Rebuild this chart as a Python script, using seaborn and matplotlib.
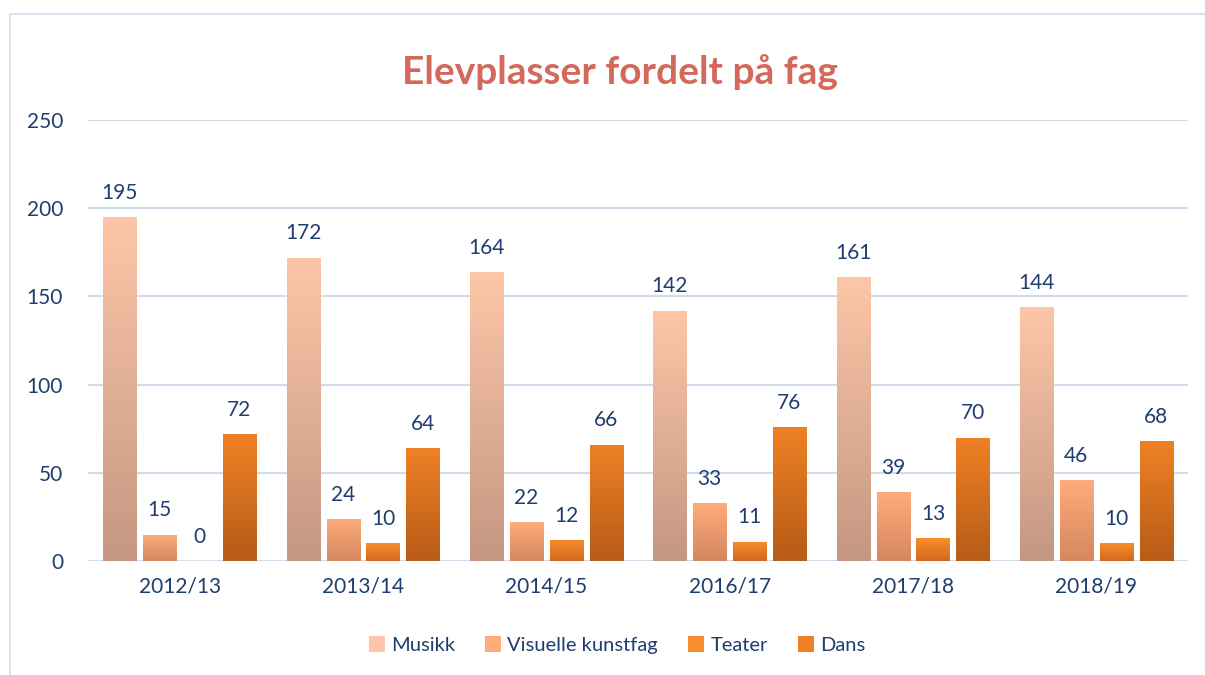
import numpy as np
import pandas as pd
import matplotlib
matplotlib.use("Agg")
import matplotlib.pyplot as plt
from matplotlib.colors import LinearSegmentedColormap
from matplotlib.patches import Rectangle, Patch
import seaborn as sns

years = ["2012/13", "2013/14", "2014/15", "2016/17", "2017/18", "2018/19"]
subjects = ["Musikk", "Visuelle kunstfag", "Teater", "Dans"]
musikk = [195, 172, 164, 142, 161, 144]
visuelle = [15, 24, 22, 33, 39, 46]
teater = [0, 10, 12, 11, 13, 10]
dans = [72, 64, 66, 76, 70, 68]

# gradient (top, bottom) per subject
grad = {
    "Musikk": ("#FDC6A8", "#C49782"),
    "Visuelle kunstfag": ("#FFAC7C", "#D5875E"),
    "Teater": ("#F98E2C", "#D0691C"),
    "Dans": ("#EF8125", "#B75B17"),
}
text_col = "#1F3D6E"
grid_col = "#D0DCEC"

df = pd.DataFrame({
    "year": np.repeat(years, 4),
    "subject": subjects * len(years),
    "value": np.array([musikk, visuelle, teater, dans]).T.ravel(),
})

sns.set_theme(style="white")
plt.rcParams["font.family"] = ["Lato", "DejaVu Sans"]

fig = plt.figure(figsize=(12.05, 6.75), dpi=100)
fig.patches.append(Rectangle((10 / 1205, -0.1), 1.2, 1 - 14 / 675 + 0.1,
                             transform=fig.transFigure, fill=False,
                             edgecolor="#D9E3F2", linewidth=1.5))
ax = fig.add_axes([88 / 1205, 1 - 561 / 675, 1100 / 1205, 441 / 675])

palette = {k: v[0] for k, v in grad.items()}
sns.barplot(data=df, x="year", y="value", hue="subject", order=years,
            hue_order=subjects, palette=palette, width=0.87, gap=0.17,
            ax=ax, legend=False)

ax.set_ylim(0, 250)
ax.set_yticks(range(0, 251, 50))
ax.yaxis.grid(True, color=grid_col, linewidth=1.5)
ax.set_axisbelow(True)
for s in ax.spines.values():
    s.set_visible(False)
ax.set_xlabel("")
ax.set_ylabel("")
ax.tick_params(axis="both", length=0, labelsize=15, colors=text_col)
ax.tick_params(axis="y", pad=18)
ax.tick_params(axis="x", pad=11)

# gradient fill for bars
xlim = ax.get_xlim()
for i, cont in enumerate(ax.containers):
    top, bot = grad[subjects[i]]
    cmap = LinearSegmentedColormap.from_list("g", [bot, top])
    for bar, val in zip(cont, cont.datavalues):
        x0 = bar.get_x()
        w = bar.get_width()
        h = bar.get_height()
        if h > 0:
            img = ax.imshow(np.linspace(0, 1, 256).reshape(-1, 1),
                            extent=[x0, x0 + w, 0, h], origin="lower",
                            cmap=cmap, aspect="auto", zorder=2)
            img.set_clip_path(bar)
            bar.set_facecolor("none")
            bar.set_edgecolor("none")
        ax.text(x0 + w / 2, h + 8, f"{int(val)}", ha="center", va="bottom",
                fontsize=15, color=text_col)
ax.set_xlim(xlim)
ax.set_ylim(0, 250)

fig.text(620 / 1205, 1 - 72 / 675, "Elevplasser fordelt på fag", ha="center",
         va="center", fontsize=28, fontweight="bold", color="#D4685A")

handles = [Patch(facecolor=grad[s][0], edgecolor="none") for s in subjects]
leg = fig.legend(handles, subjects, loc="center",
                 bbox_to_anchor=(617 / 1205, 1 - 645 / 675),
                 ncol=4, frameon=False, fontsize=14.5, handlelength=0.8,
                 handleheight=0.8, handletextpad=0.3, columnspacing=1.5)
for t in leg.get_texts():
    t.set_color(text_col)

fig.savefig("out.png", dpi=100)
